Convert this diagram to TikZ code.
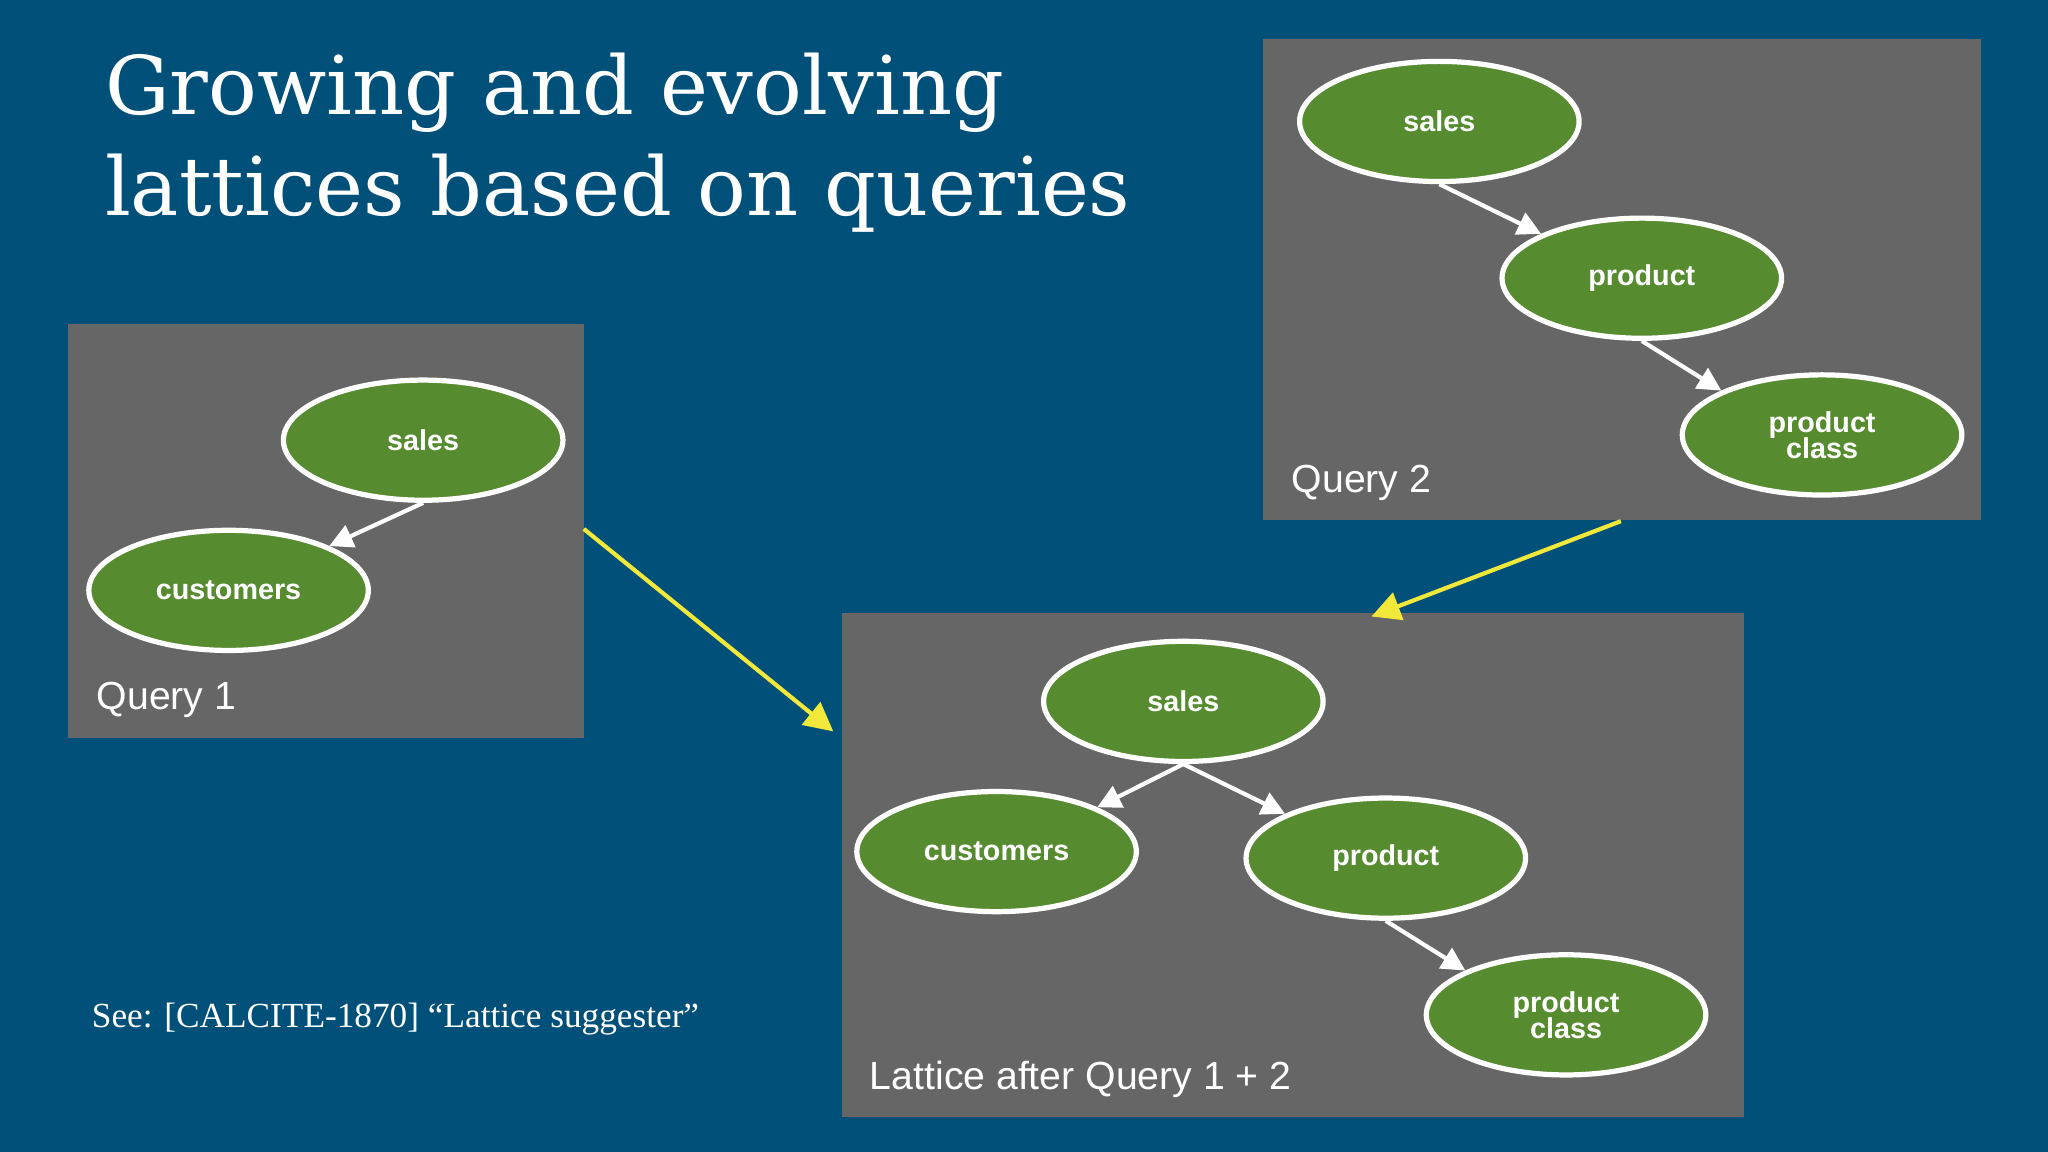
\documentclass[tikz,border=0pt]{standalone}
\usepackage{fontspec}
\setmainfont{DejaVu Serif}
\newfontfamily\sansf{Liberation Sans}
\newfontfamily\seef{Liberation Serif}
\usetikzlibrary{shapes.geometric,arrows.meta}
\definecolor{bgblue}{HTML}{00507A}
\definecolor{boxgray}{HTML}{666666}
\definecolor{nodegreen}{HTML}{568B2F}
\definecolor{arrowyellow}{HTML}{F2E83A}
\begin{document}
\begin{tikzpicture}[x=0.5pt,y=-0.5pt,
  box/.style={fill=boxgray,draw=none},
  ent/.style={ellipse,draw=white,line width=2pt,fill=nodegreen,minimum width=107pt,minimum height=46pt,
    text=white,font=\sansf\bfseries\fontsize{11}{12}\selectfont,align=center,inner sep=0pt},
  link/.style={draw=white,line width=1.6pt,-{Triangle[length=9pt,width=9pt]}},
  move/.style={draw=arrowyellow,line width=1.6pt,-{Triangle[length=11pt,width=11pt]}},
  lbl/.style={anchor=base west,text=white,font=\sansf\fontsize{15}{18}\selectfont}]
\fill[bgblue] (0,0) rectangle (1568,882);
\useasboundingbox (0,0) rectangle (1568,882);
% title
\node[anchor=base west,text=white,font=\fontsize{31}{38}\selectfont,align=left,inner sep=0pt] (title) at (80,88)
  {Growing and evolving};
\node[anchor=base west,text=white,font=\fontsize{31}{38}\selectfont,align=left,inner sep=0pt] (title2) at (80,165)
  {lattices based on queries};
% boxes
\fill[box] (52,248) rectangle (447,565);
\fill[box] (967,30) rectangle (1517,398);
\fill[box] (645,469) rectangle (1335,855);
% query 1
\node[ent] (q1s) at (324,337) {sales};
\node[ent] (q1c) at (175,452) {customers};
\draw[link] (q1s.south) -- (q1c.north east);
\node[lbl] (q1l) at (67,543) {Query 1};
% query 2
\node[ent] (q2s) at (1102,93) {sales};
\node[ent] (q2p) at (1257,213) {product};
\node[ent] (q2pc) at (1395,333) {product\\[-2pt]class};
\draw[link] (q2s.south) -- (q2p.north west);
\draw[link] (q2p.south) -- (q2pc.north west);
\node[lbl] (q2l) at (982,377) {Query 2};
% lattice
\node[ent] (ls) at (906,537) {sales};
\node[ent] (lc) at (763,652) {customers};
\node[ent] (lp) at (1061,657) {product};
\node[ent] (lpc) at (1199,777) {product\\[-2pt]class};
\draw[link] (ls.south) -- (lc.north east);
\draw[link] (ls.south) -- (lp.north west);
\draw[link] (lp.south) -- (lpc.north west);
\node[lbl] (ll) at (659,834) {Lattice after Query 1 + 2};
% moves
\coordinate (m1a) at (447,405);
\coordinate (m1b) at (638,560);
\coordinate (m2a) at (1241,399);
\coordinate (m2b) at (1050,472);
\draw[move] (m1a) -- (m1b);
\draw[move] (m2a) -- (m2b);
% reference
\node[anchor=base west,text=white,font=\seef\fontsize{13.5}{16}\selectfont,inner sep=0pt] (see) at (70,787)
  {See: [CALCITE-1870] “Lattice suggester”};
\end{tikzpicture}
\end{document}
